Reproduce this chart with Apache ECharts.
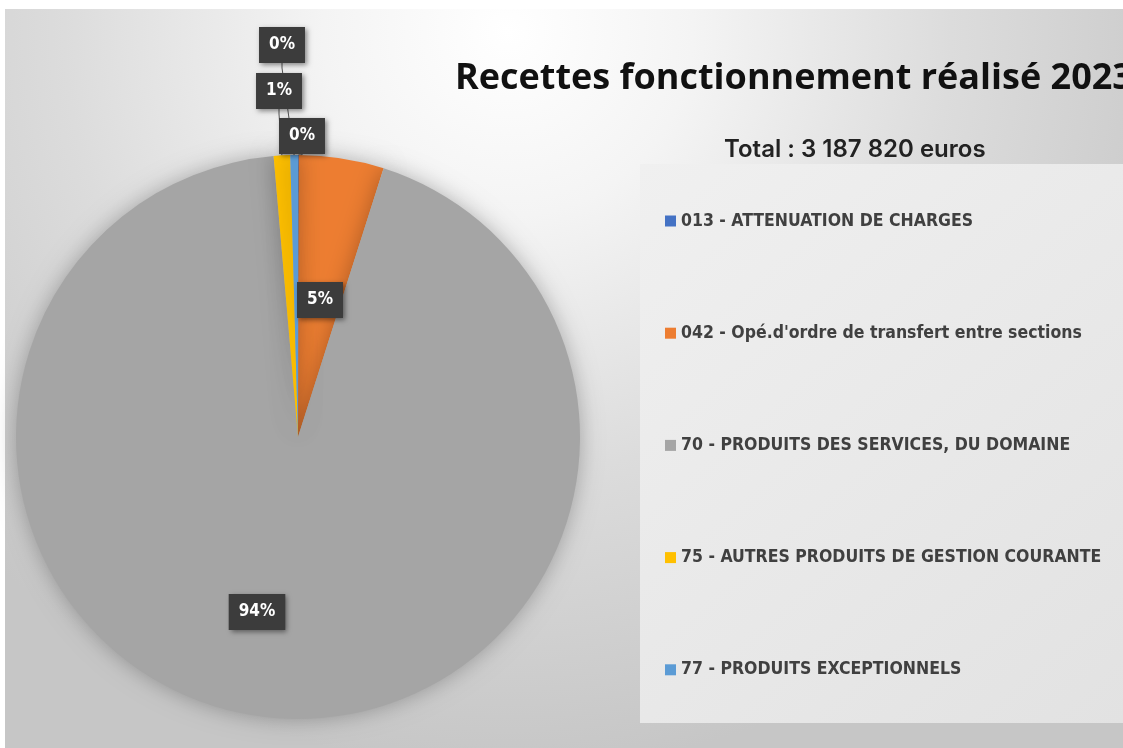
<!DOCTYPE html>
<html>
<head>
<meta charset="utf-8">
<script src="https://cdn.jsdelivr.net/npm/echarts@6/dist/echarts.min.js"></script>
<style>html,body{margin:0;padding:0;background:#fff}#c{width:1123px;height:748px}</style>
</head>
<body>
<div id="c"></div>
<script>
// ---- data ----
const categories = [
  '013 - ATTENUATION DE CHARGES',
  "042 - Opé.d'ordre de transfert entre sections",
  '70 - PRODUITS DES SERVICES, DU DOMAINE',
  '75 - AUTRES PRODUITS DE GESTION COURANTE',
  '77 - PRODUITS EXCEPTIONNELS'
];
const amounts = [1500, 155000, 2987320, 30000, 14000];
const colors = ['#4472C4', '#ED7D31', '#A5A5A5', '#FFC000', '#5B9BD5'];
const titleText = 'Recettes fonctionnement réalisé 2023';
const subtitleText = 'Total : 3 187 820 euros';

// ---- label placement (styling) ----
const labelPos = [[302, 136], [320, 300], [257, 612], [279, 91], [282, 45]];

const chart = echarts.init(document.getElementById('c'));
const labelFont = "'Liberation Sans Narrow', 'DejaVu Sans Condensed', sans-serif";
chart.setOption({
  backgroundColor: '#ffffff',
  graphic: [
    {
      type: 'rect', z: -10, silent: true,
      shape: { x: 5, y: 9, width: 1118, height: 739 },
      style: {
        fill: {
          type: 'radial', x: 0.45, y: 0.03, r: 1.0,
          colorStops: [
            { offset: 0, color: '#ffffff' },
            { offset: 0.25, color: '#f4f4f4' },
            { offset: 0.6, color: '#dcdcdc' },
            { offset: 1, color: '#c6c6c6' }
          ]
        }
      }
    },
    {
      type: 'rect', z: -9, silent: true,
      shape: { x: 640, y: 164, width: 483, height: 559 },
      style: {
        fill: {
          type: 'linear', x: 0, y: 0, x2: 1, y2: 1,
          colorStops: [
            { offset: 0, color: '#f0f0f0' },
            { offset: 1, color: '#e2e2e2' }
          ]
        }
      }
    }
  ],
  title: [
    {
      text: titleText, left: 450, top: 56,
      textStyle: { fontFamily: "'Open Sans', sans-serif", fontSize: 36, fontWeight: 'bold', color: '#111111' }
    },
    {
      text: subtitleText, left: 719, top: 133,
      textStyle: { fontFamily: "Inter, sans-serif", fontSize: 24, fontWeight: 600, color: '#222222' }
    }
  ],
  legend: {
    orient: 'vertical', left: 660, top: 207,
    itemWidth: 11, itemHeight: 11, itemGap: 94.2,
    icon: 'rect',
    textStyle: { fontFamily: labelFont, fontSize: 17.5, fontWeight: 'bold', color: '#404040' },
    data: categories
  },
  series: [{
    type: 'pie',
    center: [298, 437],
    radius: 282,
    startAngle: 90,
    clockwise: true,
    avoidLabelOverlap: false,
    itemStyle: { shadowBlur: 22, shadowColor: 'rgba(0,0,0,0.28)' },
    label: {
      show: true,
      position: 'outside',
      formatter: p => Math.round(p.percent) + '%',
      color: '#ffffff',
      fontFamily: labelFont,
      fontSize: 17,
      fontWeight: 'bold',
      backgroundColor: '#3c3c3c',
      padding: [10, 10, 9, 10],
      shadowBlur: 5,
      shadowOffsetX: 2,
      shadowOffsetY: 2,
      shadowColor: 'rgba(0,0,0,0.45)'
    },
    labelLine: { show: true, length: 5, length2: 5, lineStyle: { color: '#555555', width: 1 } },
    labelLayout: p => ({
      x: labelPos[p.dataIndex][0],
      y: labelPos[p.dataIndex][1],
      align: 'center',
      verticalAlign: 'middle'
    }),
    data: categories.map((c, i) => ({
      name: c, value: amounts[i],
      itemStyle: { color: colors[i] },
      labelLine: { show: i === 0 || i >= 3 }
    }))
  }]
});
</script>
</body>
</html>
